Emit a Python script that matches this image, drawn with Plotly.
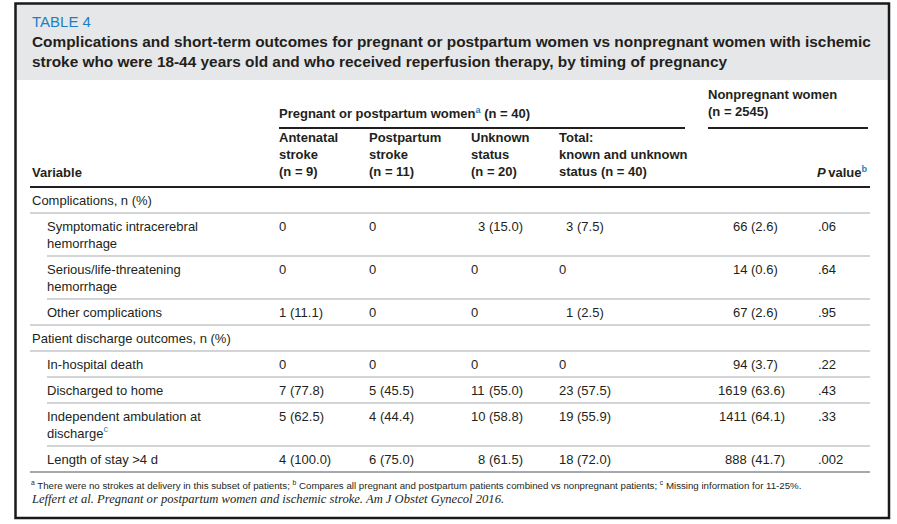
import plotly.graph_objects as go

# ---------------- table content ----------------
table_label = "TABLE 4"
title_lines = [
    "Complications and short-term outcomes for pregnant or postpartum women vs nonpregnant women with ischemic",
    "stroke who were 18-44 years old and who received reperfusion therapy, by timing of pregnancy",
]

group_header = "Pregnant or postpartum women<span style='color:#1b7fc4'><sup>a</sup></span> (n = 40)"
nonpreg_header = ["Nonpregnant women", "(n = 2545)"]
column_headers = [
    ["Antenatal", "stroke", "(n = 9)"],
    ["Postpartum", "stroke", "(n = 11)"],
    ["Unknown", "status", "(n = 20)"],
    ["Total:", "known and unknown", "status (n = 40)"],
]
variable_header = "Variable"
pvalue_header = "<i>P</i>\u2009value<span style='color:#1b7fc4'><sup>b</sup></span>"

sections = ["Complications, n (%)", "Patient discharge outcomes, n (%)"]
row_section = [0, 0, 0, 1, 1, 1, 1]
variables = [
    "Symptomatic intracerebral<br>hemorrhage",
    "Serious/life-threatening<br>hemorrhage",
    "Other complications",
    "In-hospital death",
    "Discharged to home",
    "Independent ambulation at<br>discharge<span style='color:#1b7fc4'><sup>c</sup></span>",
    "Length of stay &gt;4 d",
]
antenatal = ["0", "0", "1 (11.1)", "0", "7 (77.8)", "5 (62.5)", "4 (100.0)"]
postpartum = ["0", "0", "0", "0", "5 (45.5)", "4 (44.4)", "6 (75.0)"]
unknown = ["3 (15.0)", "0", "0", "0", "11 (55.0)", "10 (58.8)", "8 (61.5)"]
total = ["3 (7.5)", "0", "1 (2.5)", "0", "23 (57.5)", "19 (55.9)", "18 (72.0)"]
nonpregnant = ["66 (2.6)", "14 (0.6)", "67 (2.6)", "94 (3.7)", "1619 (63.6)", "1411 (64.1)", "888 (41.7)"]
p_values = [".06", ".64", ".95", ".22", ".43", ".33", ".002"]

footnote = ("<sup>a</sup> There were no strokes at delivery in this subset of patients; "
            "<sup>b</sup> Compares all pregnant and postpartum patients combined vs nonpregnant patients; "
            "<sup>c</sup> Missing information for 11-25%.")
citation = "Leffert et al. Pregnant or postpartum women and ischemic stroke. Am J Obstet Gynecol 2016."

# ---------------- styling / layout ----------------
W, H = 897, 524
SANS = "Liberation Sans, Arial, sans-serif"
SERIF = "Liberation Serif, Times New Roman, serif"
INK = "#231f20"
BLUE = "#1b7fc4"
RULE = "#a7a9ac"
PANEL = "#e6e7e8"

LABEL_X, SUB_X = 32, 47
TABLE_L, TABLE_R = 30, 870
COL_X = [279, 369, 471, 559]
PAREN_X = [290, 380, 489, 577]
NONPREG_X, NONPREG_PAREN = 708, 751
P_X = 818
HEADER_BOTTOM = 187
LINE_H = 13 * 1.3

fig = go.Figure()


def add_text(x, y, text, size=13, xanchor="left", yanchor="middle", color=INK,
             family=SANS, weight="normal", style="normal"):
    fig.add_annotation(x=x, y=y, xref="x", yref="y", text=text, showarrow=False,
                       xanchor=xanchor, yanchor=yanchor, align=xanchor,
                       borderpad=0, borderwidth=0,
                       font=dict(size=size, color=color, family=family, weight=weight, style=style))


def add_rule(x0, x1, y, color=RULE, width=1):
    fig.add_shape(type="line", x0=x0, x1=x1, y0=y, y1=y, xref="x", yref="y",
                  line=dict(color=color, width=width))


def add_value(col_x, paren_x, y, value):
    # counts are aligned on the opening parenthesis, bare zeros sit at the column start
    if " (" in value:
        n, pct = value.split(" ", 1)
        add_text(paren_x - 3.6, y, n, xanchor="right")
        add_text(paren_x, y, pct)
    else:
        add_text(col_x, y, value)


# frame and title panel
fig.add_shape(type="rect", x0=15.5, x1=889, y0=3.5, y1=80, xref="x", yref="y",
              fillcolor=PANEL, line=dict(width=0), layer="below")
fig.add_shape(type="rect", x0=15.5, x1=889, y0=3.5, y1=518, xref="x", yref="y",
              line=dict(color="#1a1a1a", width=2.5))

add_text(LABEL_X, 21, table_label, size=15, color=BLUE)
add_text(LABEL_X, 41 + 15.4 * 1.3 / 2, "<br>".join(title_lines), size=15.4, weight="bold")

# column headers
HDR = dict(size=13, weight="bold")
add_text(COL_X[0], 113, group_header, **HDR)
add_text(NONPREG_X, 95 + LINE_H / 2, "<br>".join(nonpreg_header), **HDR)
add_rule(279, 685, 128, color=INK, width=2)
add_rule(NONPREG_X, 868, 128, color=INK, width=2)
for x, lines in zip(COL_X, column_headers):
    add_text(x, 138 + LINE_H, "<br>".join(lines), **HDR)
add_text(LABEL_X, 172, variable_header, **HDR)
add_text(868, 172, pvalue_header, xanchor="right", **HDR)
add_rule(TABLE_L, TABLE_R, HEADER_BOTTOM, color=INK, width=2)

# body rows
rows = []
for s, name in enumerate(sections):
    rows.append((name, None))
    rows += [(variables[i], i) for i in range(len(variables)) if row_section[i] == s]

top = HEADER_BOTTOM
for k, (label, i) in enumerate(rows):
    nlines = label.count("<br>") + 1
    height = 26 if nlines == 1 else 43
    first = top + 13.5
    if i is None:
        add_text(LABEL_X, first, label)
    else:
        add_text(SUB_X, first + (nlines - 1) * LINE_H / 2, label)
        cols = [antenatal, postpartum, unknown, total]
        for c, series in enumerate(cols):
            add_value(COL_X[c], PAREN_X[c], first, series[i])
        add_value(NONPREG_X, NONPREG_PAREN, first, nonpregnant[i])
        add_text(P_X, first, p_values[i])
    top += height
    last = k == len(rows) - 1
    nxt_section = (not last) and rows[k + 1][1] is None
    if last:
        add_rule(TABLE_L, TABLE_R, top, width=2)
    elif i is None or nxt_section:
        add_rule(TABLE_L, TABLE_R, top)
    else:
        add_rule(SUB_X, TABLE_R, top)

add_text(LABEL_X - 1, 485, footnote, size=9.7)
add_text(LABEL_X - 1, 499, citation, size=12.6, family=SERIF, style="italic")

fig.update_layout(
    width=W, height=H,
    margin=dict(l=0, r=0, t=0, b=0),
    paper_bgcolor="white", plot_bgcolor="white",
    showlegend=False,
    xaxis=dict(range=[0, W], visible=False, fixedrange=True),
    yaxis=dict(range=[H, 0], visible=False, fixedrange=True),
)

# drop the browser's default body margin so the figure sits at the window origin
fig.write_html("out.html", config={"displayModeBar": False},
               post_script="document.body.style.margin='0';")
